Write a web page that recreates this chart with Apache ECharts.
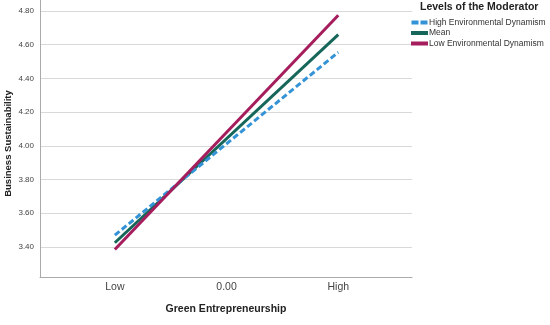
<!DOCTYPE html>
<html>
<head>
<meta charset="utf-8">
<script src="https://cdn.jsdelivr.net/npm/echarts@6/dist/echarts.min.js"></script>
<style>html,body{margin:0;padding:0;background:#fff}#c{width:550px;height:325px}</style>
</head>
<body>
<div id="c"></div>
<script>
const categories = ["Low", "0.00", "High"];
const categoryPositions = [-1, 0, 1];
const seriesNames = ["High Environmental Dynamism", "Mean", "Low Environmental Dynamism"];
const highDyn = [[-1, 3.47], [1, 4.555]];
const meanDyn = [[-1, 3.425], [1, 4.66]];
const lowDyn = [[-1, 3.385], [1, 4.775]];
const yTicks = [3.40, 3.60, 3.80, 4.00, 4.20, 4.40, 4.60, 4.80];

const font = "Liberation Sans, Arial, sans-serif";
const solidIcon = 'path://M0,0H17V4H0Z';
const dashIcon = 'path://M0,0H7V4H0Z M9,0H16V4H9Z';
const chart = echarts.init(document.getElementById('c'), null, {renderer: 'canvas'});
chart.setOption({
  animation: false,
  backgroundColor: '#fff',
  title: {
    text: 'Levels of the Moderator', left: 420, top: 2, padding: 0,
    textStyle: {fontFamily: font, fontSize: 10.5, fontWeight: 'bold', color: '#222'}
  },
  legend: {
    orient: 'vertical', left: 411, top: 18, itemGap: 1.5, padding: 0,
    itemWidth: 17, itemHeight: 4,
    textStyle: {fontFamily: font, fontSize: 8.5, color: '#333', padding: [0, 0, 0, -4]},
    data: [
      {name: seriesNames[0], icon: dashIcon},
      {name: seriesNames[1], icon: solidIcon},
      {name: seriesNames[2], icon: solidIcon}
    ]
  },
  grid: {left: 40, right: 138, top: 0, bottom: 48, containLabel: false, outerBoundsMode: 'none'},
  xAxis: {
    type: 'value', min: -1.67, max: 1.66,
    name: 'Green Entrepreneurship', nameLocation: 'middle', nameGap: 27,
    nameTextStyle: {fontFamily: font, fontSize: 10.5, fontWeight: 'bold', color: '#222'},
    axisLine: {show: true, onZero: false, lineStyle: {color: '#aaa', width: 1}},
    axisTick: {show: false, customValues: categoryPositions},
    axisLabel: {customValues: categoryPositions, fontFamily: font, fontSize: 10.5, color: '#444', margin: 5,
      formatter: v => categories[categoryPositions.indexOf(Math.round(v))]},
    splitLine: {show: false}
  },
  yAxis: {
    type: 'value', min: 3.222, max: 4.865,
    name: 'Business Sustainability', nameLocation: 'middle', nameGap: 27, nameRotate: 90,
    nameMoveOverlap: false,
    nameTextStyle: {fontFamily: font, fontSize: 9.5, fontWeight: 'bold', color: '#222', padding: [0, 10, 0, 0]},
    axisLine: {show: true, onZero: false, lineStyle: {color: '#aaa', width: 1}},
    axisTick: {show: false, customValues: yTicks},
    axisLabel: {customValues: yTicks, fontFamily: font, fontSize: 8, color: '#444', margin: 6,
      formatter: v => v.toFixed(2)},
    splitLine: {show: true, lineStyle: {color: '#d9d9d9', width: 1}}
  },
  series: [
    {name: seriesNames[0], type: 'line', data: highDyn, symbol: 'none',
     lineStyle: {color: '#3393d6', width: 3, type: [6, 3]}, itemStyle: {color: '#3393d6'}, z: 3},
    {name: seriesNames[1], type: 'line', data: meanDyn, symbol: 'none',
     lineStyle: {color: '#17665a', width: 3}, itemStyle: {color: '#17665a'}, z: 2},
    {name: seriesNames[2], type: 'line', data: lowDyn, symbol: 'none',
     lineStyle: {color: '#a51d5c', width: 3}, itemStyle: {color: '#a51d5c'}, z: 4}
  ]
});
</script>
</body>
</html>
